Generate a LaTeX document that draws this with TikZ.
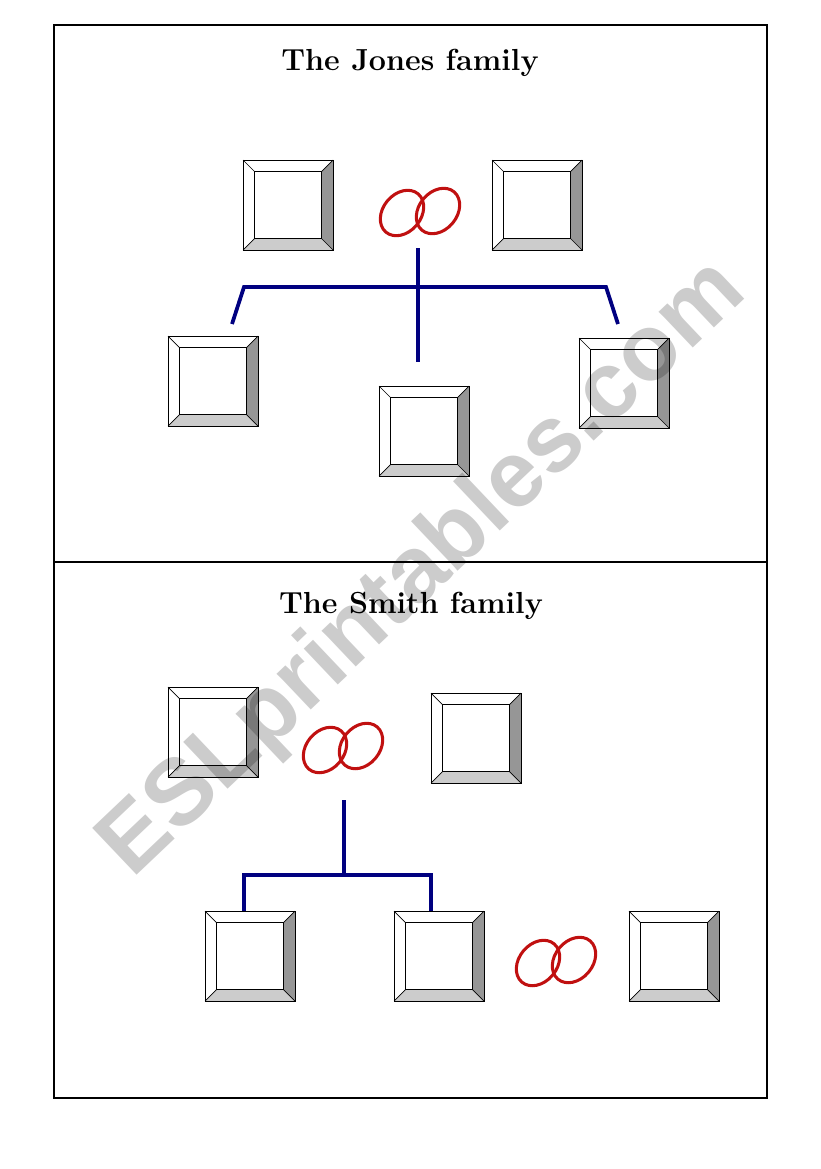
\documentclass[tikz,border=0pt]{standalone}
\usepackage{fontspec}
\newfontfamily\markfont{Liberation Sans}
\usepackage{tikz}
\usetikzlibrary{shapes.geometric}
\definecolor{treeblue}{RGB}{0,0,128}
\definecolor{ringred}{RGB}{192,16,16}
\definecolor{bevdark}{RGB}{150,150,150}
\definecolor{bevlight}{RGB}{204,204,204}
\tikzset{
  card/.style={draw, line width=0.6pt, fill=white, minimum size=2.7cm, inner sep=0pt, outer sep=0pt},
  cardin/.style={draw, line width=0.6pt, minimum size=2.0cm, inner sep=0pt, outer sep=0pt},
  tree/.style={treeblue, line width=3.2pt},
  ring/.style={draw=ringred, line width=2.6pt, ellipse, minimum width=1.5cm, minimum height=1.14cm, inner sep=0pt, rotate=50},
  title/.style={font=\fontsize{26}{30}\selectfont\bfseries, anchor=base},
  watermark/.style={font=\markfont\bfseries\fontsize{80}{90}\selectfont, text=black, text opacity=0.2, rotate=43.5}
}
\newcommand{\famcard}[2]{%
  \node[card] (#1) at (#2) {};
  \node[cardin] (#1i) at (#2) {};
  \fill[bevdark] (#1.north east) -- (#1.south east) -- (#1i.south east) -- (#1i.north east) -- cycle;
  \fill[bevlight] (#1.south west) -- (#1.south east) -- (#1i.south east) -- (#1i.south west) -- cycle;
  \draw[line width=0.6pt] (#1.north west) -- (#1i.north west) (#1.north east) -- (#1i.north east)
    (#1.south west) -- (#1i.south west) (#1.south east) -- (#1i.south east);
  \draw[line width=0.6pt] (#1.south west) rectangle (#1.north east) (#1i.south west) rectangle (#1i.north east);
}

\begin{document}
\begin{tikzpicture}[x=0.03cm, y=-0.03cm]
                \useasboundingbox (0,0) rectangle (821,1169);
                \coordinate (fnw) at (54,25);
                \coordinate (fse) at (767,1098);
                \coordinate (fmid) at (54,562);
                \draw[line width=1pt] (fnw) rectangle (fse);
                \draw[line width=1pt] (fmid) -- (fmid -| fse);
                \node[title] (jtitle) at (410,70) {The Jones family};
                \node[title] (stitle) at (411,613) {The Smith family};
                \famcard{jp1}{288,205}
                \famcard{jp2}{537,205}
                \famcard{jc1}{213,381}
                \famcard{jc2}{424,431}
                \famcard{jc3}{624,383}
                \node[ring] (jring1) at (402,213) {};
                \node[ring] (jring2) at (438,211) {};
                \coordinate (jtop) at (418,248);
                \coordinate (jend) at (418,362);
                \coordinate (jl) at (244,287);
                \coordinate (jr) at (606,287);
                \coordinate (jlend) at (232,324);
                \coordinate (jrend) at (618,324);
                \draw[tree] (jtop) -- (jend);
                \draw[tree] (jlend) -- (jl) -- (jr) -- (jrend);
                \famcard{sp1}{213,732}
                \famcard{sp2}{476,738}
                \famcard{sc1}{250,956}
                \famcard{sc2}{439,956}
                \famcard{sc3}{674,956}
                \node[ring] (sring1) at (325,750) {};
                \node[ring] (sring2) at (361,746) {};
                \node[ring] (sring3) at (538,963) {};
                \node[ring] (sring4) at (574,960) {};
                \coordinate (stop) at (344,800);
                \coordinate (sl) at (244,875);
                \coordinate (sr) at (431,875);
                \draw[tree] (stop) -- (stop |- sl);
                \draw[tree] (sl |- sc1.north) -- (sl) -- (sr) -- (sr |- sc2.north);
                \node[watermark] (mark) at (424,570) {ESLprintables.com};
            \end{tikzpicture}
\end{document}
